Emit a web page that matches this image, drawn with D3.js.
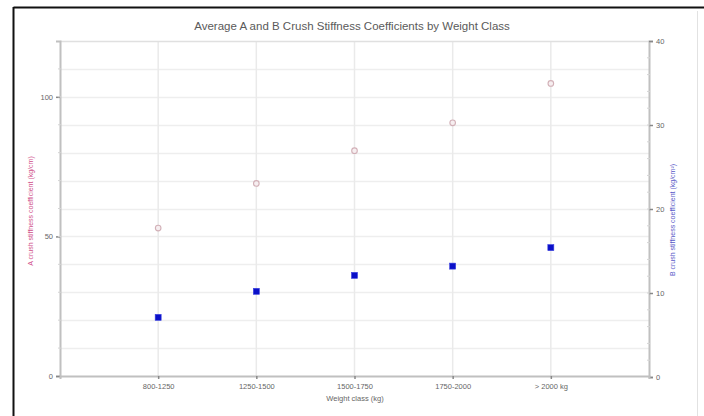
<!DOCTYPE html>
<html>
<head>
<meta charset="utf-8">
<script src="https://cdn.jsdelivr.net/npm/d3@7"></script>
<style>
  body { margin: 0; background: #fff; }
  svg { display: block; font-family: "Liberation Sans", Arial, sans-serif; }
</style>
</head>
<body>
<script>
var categories = ["800-1250", "1250-1500", "1500-1750", "1750-2000", "> 2000 kg"];
var aValues = [53, 69, 80.7, 90.7, 104.8];   // A coefficient, left axis
var bValues = [7.1, 10.2, 12.1, 13.2, 15.4];  // B coefficient, right axis
var leftTicks = [0, 50, 100];
var rightTicks = [0, 10, 20, 30, 40];

var width = 704, height = 416;
var margin = {top: 41, right: 55, bottom: 40, left: 60};

var svg = d3.select("body").append("svg")
    .attr("width", width).attr("height", height);

// frame
svg.append("line").attr("x1", 13.5).attr("x2", width).attr("y1", 7.5).attr("y2", 7.5)
    .attr("stroke", "#111").attr("stroke-width", 2);
svg.append("line").attr("x1", 13.5).attr("x2", 13.5).attr("y1", 7).attr("y2", height)
    .attr("stroke", "#111").attr("stroke-width", 2);
svg.append("line").attr("x1", 697.5).attr("x2", 697.5).attr("y1", 11).attr("y2", height)
    .attr("stroke", "#e2e2e2").attr("stroke-width", 1);

var x = d3.scalePoint()
    .domain(categories)
    .range([margin.left, width - margin.right])
    .padding(1);

var yA = d3.scaleLinear().domain([0, 120]).range([376, 41]);
var yB = d3.scaleLinear().domain([0, 40]).range([377, 41]);

var g = svg.append("g");

// gridlines
g.selectAll(".hgrid")
  .data(d3.range(10, 120, 10))
  .enter().append("line")
    .attr("x1", 60).attr("x2", 649)
    .attr("y1", function(d) { return Math.round(yA(d)) + 0.5; })
    .attr("y2", function(d) { return Math.round(yA(d)) + 0.5; })
    .attr("stroke", "#eeeeee").attr("stroke-width", 1.5);

g.selectAll(".vgrid")
  .data(categories)
  .enter().append("line")
    .attr("x1", function(d) { return x(d); })
    .attr("x2", function(d) { return x(d); })
    .attr("y1", 41).attr("y2", 376)
    .attr("stroke", "#eaeaea").attr("stroke-width", 1.5);

// top border of plot
g.append("line").attr("x1", 60).attr("x2", 649).attr("y1", 41.5).attr("y2", 41.5)
    .attr("stroke", "#e0e0e0").attr("stroke-width", 1.5);

// left axis
var axL = svg.append("g").attr("transform", "translate(60,0)")
    .call(d3.axisLeft(yA).tickValues(leftTicks).tickSize(4).tickPadding(3));
svg.append("g").selectAll("line")
  .data(d3.range(10, 120, 10))
  .enter().append("line")
    .attr("x1", 58).attr("x2", 61)
    .attr("y1", function(d) { return yA(d); }).attr("y2", function(d) { return yA(d); })
    .attr("stroke", "#d4d4d4");

// right axis
var axR = svg.append("g").attr("transform", "translate(649,0)")
    .call(d3.axisRight(yB).tickValues(rightTicks).tickSize(4).tickPadding(3));
svg.append("g").selectAll("line")
  .data(d3.range(2, 40, 2))
  .enter().append("line")
    .attr("x1", 647).attr("x2", 650)
    .attr("y1", function(d) { return yB(d); }).attr("y2", function(d) { return yB(d); })
    .attr("stroke", "#d4d4d4");

// bottom axis
var axB = svg.append("g").attr("transform", "translate(0,376)")
    .call(d3.axisBottom(x).tickSize(3).tickPadding(5));

[axL, axR, axB].forEach(function(a) {
  a.select(".domain").attr("stroke", "#c0c0c0").attr("stroke-width", 2);
  a.selectAll(".tick line").attr("stroke", "#888").attr("stroke-width", 1.5);
  a.selectAll("text").attr("fill", "#666").attr("font-size", 7.5)
    .attr("font-family", "Liberation Sans, Arial, sans-serif");
});

// series A: open circles
svg.append("g").selectAll("circle")
  .data(aValues)
  .enter().append("circle")
    .attr("cx", function(d, i) { return x(categories[i]); })
    .attr("cy", function(d) { return yA(d); })
    .attr("r", 2.8)
    .attr("fill", "#f6eef0")
    .attr("stroke", "#d2b0b7")
    .attr("stroke-width", 1.1);

// series B: blue squares
svg.append("g").selectAll("rect")
  .data(bValues)
  .enter().append("rect")
    .attr("x", function(d, i) { return x(categories[i]) - 3; })
    .attr("y", function(d) { return yB(d) - 3; })
    .attr("width", 6).attr("height", 6)
    .attr("fill", "#0a10c8")
    .attr("stroke", "#3a40e0").attr("stroke-width", 0.6);

// titles
svg.append("text")
    .attr("x", 352).attr("y", 30)
    .attr("text-anchor", "middle")
    .attr("font-size", 11.5)
    .attr("fill", "#5a5a5a")
    .text("Average A and B Crush Stiffness Coefficients by Weight Class");

svg.append("text")
    .attr("x", 355).attr("y", 401)
    .attr("text-anchor", "middle")
    .attr("font-size", 7.5)
    .attr("fill", "#666")
    .text("Weight class (kg)");

svg.append("text")
    .attr("transform", "translate(33,211) rotate(-90)")
    .attr("text-anchor", "middle")
    .attr("font-size", 7)
    .attr("fill", "#d0508a")
    .text("A crush stiffness coefficient (kg/cm)");

svg.append("text")
    .attr("transform", "translate(675,220) rotate(-90)")
    .attr("text-anchor", "middle")
    .attr("font-size", 7)
    .attr("fill", "#5858c8")
    .text("B crush stiffness coefficient (kg/cm\u00b2)");
</script>
</body>
</html>
